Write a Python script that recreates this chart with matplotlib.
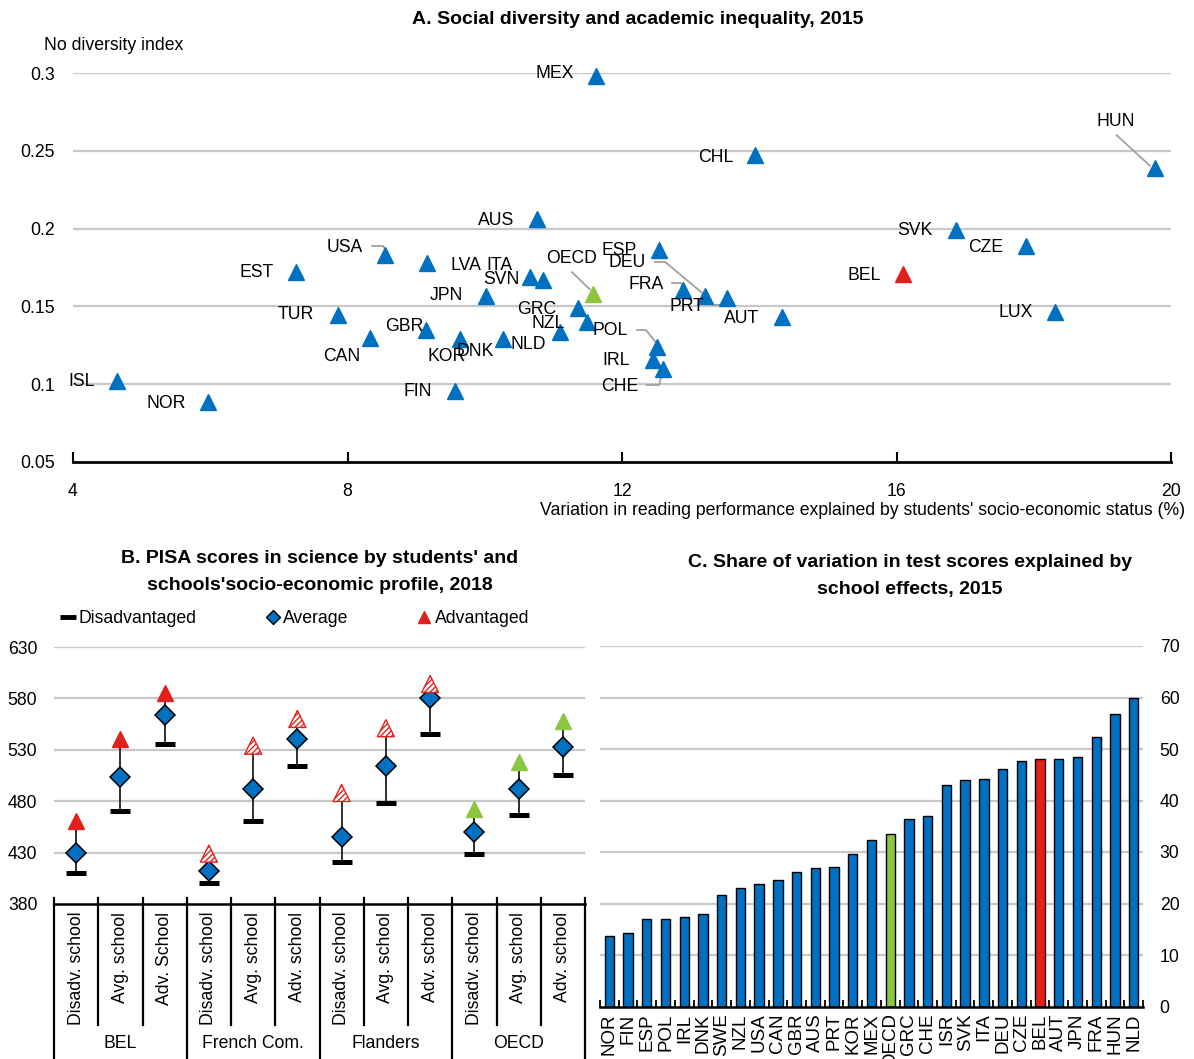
import matplotlib
matplotlib.use('Agg')
import matplotlib.pyplot as plt
from matplotlib import font_manager
from matplotlib.lines import Line2D
import matplotlib.transforms as mtrans

names = {f.name for f in font_manager.fontManager.ttflist}
NARROW = 'Liberation Sans Narrow' if 'Liberation Sans Narrow' in names else 'Liberation Sans'
REG = 'Liberation Sans'
plt.rcParams['font.family'] = [NARROW, 'DejaVu Sans']

BLUE = '#0070C0'
RED = '#E3201B'
GREEN = '#8CC63F'
GRID = '#C8C8C8'

# ---------------- Panel A data ----------------
a_countries = ['ISL', 'NOR', 'EST', 'TUR', 'CAN', 'USA', 'GBR', 'LVA', 'JPN', 'KOR',
               'NLD', 'FIN', 'ITA', 'SVN', 'AUS', 'GRC', 'NZL', 'SWE', 'OECD', 'MEX',
               'ESP', 'FRA', 'DEU', 'PRT', 'AUT', 'POL', 'IRL', 'CHE', 'CHL', 'HUN',
               'SVK', 'CZE', 'BEL', 'LUX']
a_x = [4.64, 5.97, 7.25, 7.86, 8.33, 8.55, 9.15, 9.16, 10.02, 9.64,
       10.27, 9.57, 10.66, 10.85, 10.76, 11.36, 11.10, 11.49, 11.58, 11.62,
       12.54, 12.89, 13.21, 13.53, 14.33, 12.51, 12.45, 12.60, 13.94, 19.76,
       16.86, 17.89, 16.10, 18.31]
a_y = [0.102, 0.0886, 0.172, 0.1445, 0.130, 0.183, 0.135, 0.1776, 0.157, 0.129,
       0.129, 0.0956, 0.169, 0.167, 0.206, 0.149, 0.1335, 0.140, 0.158, 0.298,
       0.186, 0.1605, 0.157, 0.1554, 0.143, 0.124, 0.1156, 0.110, 0.247, 0.239,
       0.199, 0.189, 0.171, 0.1464]

# label placement (data coords) and leader lines
a_label_pos = {
    'MEX': (11.02, 0.300), 'CHL': (13.36, 0.246), 'HUN': (19.20, 0.269),
    'AUS': (10.16, 0.2055), 'SVK': (16.27, 0.1985), 'CZE': (17.30, 0.188),
    'USA': (7.96, 0.188), 'ESP': (11.96, 0.186), 'DEU': (12.07, 0.1785),
    'EST': (6.67, 0.1715), 'BEL': (15.53, 0.170), 'OECD': (11.26, 0.181),
    'LVA': (9.73, 0.1766), 'ITA': (10.22, 0.1766), 'SVN': (10.24, 0.167),
    'FRA': (12.35, 0.1638), 'JPN': (9.44, 0.1567), 'GRC': (10.76, 0.1477),
    'PRT': (12.95, 0.150), 'TUR': (7.25, 0.1445), 'AUT': (13.75, 0.1425),
    'LUX': (17.73, 0.1458), 'NZL': (10.92, 0.1393), 'GBR': (8.82, 0.1374),
    'POL': (11.83, 0.1342), 'CAN': (7.92, 0.118), 'DNK': (9.86, 0.1207),
    'KOR': (9.45, 0.1175), 'NLD': (10.63, 0.1252), 'IRL': (11.91, 0.115),
    'ISL': (4.12, 0.102), 'CHE': (11.97, 0.0988), 'FIN': (9.03, 0.0956),
    'NOR': (5.36, 0.0879),
}
a_leaders = {
    'HUN': [(19.21, 0.260), (19.69, 0.2405)],
    'USA': [(8.36, 0.1888), (8.52, 0.1888), (8.56, 0.1855)],
    'DEU': [(12.48, 0.1785), (12.63, 0.1785), (13.16, 0.1590)],
    'OECD': [(11.27, 0.172), (11.53, 0.1610)],
    'FRA': [(12.73, 0.1650), (12.87, 0.1650), (12.90, 0.1625)],
    'PRT': [(13.31, 0.151), (13.46, 0.151), (13.52, 0.1560)],
    'POL': [(12.22, 0.1348), (12.35, 0.1348), (12.50, 0.1265)],
    'CHE': [(12.36, 0.0995), (12.54, 0.0995), (12.59, 0.1080)],
}
a_xticks = [4, 8, 12, 16, 20]
a_yticks = [0.05, 0.1, 0.15, 0.2, 0.25, 0.3]
a_ytick_labels = ['0.05', '0.1', '0.15', '0.2', '0.25', '0.3']

# ---------------- Panel B data ----------------
b_groups = ['BEL', 'French Com.', 'Flanders', 'OECD']
b_cats = ['Disadv. school', 'Avg. school', 'Adv. School',
          'Disadv. school', 'Avg. school', 'Adv. school',
          'Disadv. school', 'Avg. school', 'Adv. school',
          'Disadv. school', 'Avg. school', 'Adv. school']
b_disadv = [410, 470.5, 535.5, 400.5, 461, 514, 421, 478, 545, 429, 466.5, 505.5]
b_avg = [430, 503.5, 564, 412, 492, 540.5, 445, 514, 580, 450, 492, 533]
b_adv = [461, 540.5, 585, 429, 534, 560, 488, 551, 594, 472.5, 518, 558]
b_adv_style = ['solid_red'] * 3 + ['hatched'] * 6 + ['solid_green'] * 3
b_yticks = [380, 430, 480, 530, 580, 630]

# ---------------- Panel C data ----------------
c_countries = ['NOR', 'FIN', 'ESP', 'POL', 'IRL', 'DNK', 'SWE', 'NZL', 'USA', 'CAN',
               'GBR', 'AUS', 'PRT', 'KOR', 'MEX', 'OECD', 'GRC', 'CHE', 'ISR', 'SVK',
               'ITA', 'DEU', 'CZE', 'BEL', 'AUT', 'JPN', 'FRA', 'HUN', 'NLD']
c_values = [13.6, 14.2, 16.9, 17.05, 17.3, 17.9, 21.6, 22.95, 23.8, 24.5,
            26.2, 26.8, 27.0, 29.55, 32.4, 33.5, 36.5, 36.9, 43.1, 44.0,
            44.1, 46.1, 47.7, 48.1, 48.1, 48.4, 52.3, 56.8, 59.9]
c_yticks = [0, 10, 20, 30, 40, 50, 60, 70]

FS = 12.7
TFS = 14

fig = plt.figure(figsize=(11.94, 10.59), dpi=100)

# ======================= Panel A =======================
axA = fig.add_axes([73 / 1194, 1 - 462 / 1059, (1171 - 73) / 1194, (462 - 73) / 1059])
axA.set_xlim(4, 20)
axA.set_ylim(0.05, 0.3)
for yv in a_yticks[1:]:
    axA.axhline(yv, color=GRID, lw=1.6, zorder=0)
for c, x, y in zip(a_countries, a_x, a_y):
    col = RED if c == 'BEL' else (GREEN if c == 'OECD' else BLUE)
    axA.plot([x], [y], marker='^', ms=11, color=col, mec=col, ls='none',
             zorder=3, clip_on=False)
for c, pts in a_leaders.items():
    axA.plot([p[0] for p in pts], [p[1] for p in pts], color='#A0A0A0', lw=1.3,
             zorder=2, clip_on=False)
for c, (tx, ty) in a_label_pos.items():
    axA.text(tx, ty, c, ha='center', va='center', fontsize=FS, zorder=4)
for s in ['top', 'left', 'right']:
    axA.spines[s].set_visible(False)
axA.spines['bottom'].set_linewidth(2)
axA.set_xticks(a_xticks)
axA.set_xticklabels([str(v) for v in a_xticks], fontsize=FS)
axA.set_yticks(a_yticks)
axA.set_yticklabels(a_ytick_labels, fontsize=FS)
axA.tick_params(axis='x', direction='in', length=7, width=1.5, pad=15)
axA.tick_params(axis='y', length=0, pad=13)
fig.text(1185 / 1194, 1 - 510 / 1059,
         "Variation in reading performance explained by students' socio-economic status (%)",
         ha='right', va='center', fontsize=FS)
fig.text(44 / 1194, 1 - 46 / 1059, 'No diversity index', ha='left', va='center', fontsize=FS)
fig.text(638 / 1194, 1 - 20 / 1059, 'A. Social diversity and academic inequality, 2015',
         ha='center', va='center', fontsize=TFS, fontweight='bold')

# ======================= Panel B =======================
axB = fig.add_axes([54 / 1194, 1 - 904 / 1059, (585 - 54) / 1194, (904 - 647) / 1059])
axB.set_xlim(-0.5, 11.5)
axB.set_ylim(380, 630)
for yv in b_yticks[1:]:
    axB.axhline(yv, color=GRID, lw=1.6, zorder=0)
xs = list(range(len(b_cats)))
for i in xs:
    axB.plot([i, i], [b_disadv[i], b_adv[i]], color='#202020', lw=1.3, zorder=1)
axB.plot(xs, b_disadv, marker='_', ms=14, mew=3.6, color='black', ls='none', zorder=2)
axB.plot(xs, b_avg, marker='D', ms=10, mfc=BLUE, mec='black', mew=1.1, ls='none', zorder=3)
for i in xs:
    st = b_adv_style[i]
    if st == 'hatched':
        axB.scatter([i], [b_adv[i]], marker='^', s=150, facecolor='white',
                    edgecolor=RED, hatch='//////', linewidths=1.0, zorder=4)
    else:
        col = RED if st == 'solid_red' else GREEN
        axB.plot([i], [b_adv[i]], marker='^', ms=12, color=col, mec=col, ls='none', zorder=4)
for s in ['top', 'left', 'right']:
    axB.spines[s].set_visible(False)
axB.spines['bottom'].set_linewidth(1.8)
axB.set_yticks(b_yticks)
axB.set_yticklabels([str(v) for v in b_yticks], fontsize=FS)
axB.tick_params(axis='y', length=0, pad=12)
axB.set_xticks([])
trB = mtrans.blended_transform_factory(axB.transData, axB.transAxes)
for k in range(len(b_cats) + 1):
    xb = k - 0.5
    bottom = -0.60 if k % 3 == 0 else -0.472
    axB.plot([xb, xb], [0.025, bottom], color='black', lw=1.6, transform=trB, clip_on=False)
for i, lab in enumerate(b_cats):
    axB.text(i, -0.03, lab, rotation=90, ha='center', va='top', fontsize=FS,
             transform=trB, clip_on=False)
for g, name in enumerate(b_groups):
    axB.text(3 * g + 1, -0.542, name, ha='center', va='center', fontsize=FS,
             transform=trB, clip_on=False)
handles = [Line2D([], [], marker='_', ms=11, mew=3.5, color='black', ls='none'),
           Line2D([], [], marker='D', ms=7, mfc=BLUE, mec='black', mew=1, ls='none'),
           Line2D([], [], marker='^', ms=9, color=RED, ls='none')]
axB.legend(handles, ['Disadvantaged', 'Average', 'Advantaged'], ncol=3, frameon=False,
           fontsize=FS, loc='center left', bbox_to_anchor=(0.0, 1.11),
           handlelength=0.8, handletextpad=0.2, columnspacing=3.9, borderaxespad=0)
fig.text(320 / 1194, 1 - 572 / 1059,
         "B. PISA scores in science by students' and\nschools'socio-economic profile, 2018",
         ha='center', va='center', fontsize=TFS, fontweight='bold', linespacing=1.73)

# ======================= Panel C =======================
axC = fig.add_axes([600 / 1194, 1 - 1006.5 / 1059, (1143 - 600) / 1194, (1006.5 - 646) / 1059])
axC.set_xlim(-0.5, len(c_countries) - 0.5)
axC.set_ylim(0, 70)
for yv in c_yticks[1:]:
    axC.axhline(yv, color=GRID, lw=1.6, zorder=0)
cols = [RED if c == 'BEL' else (GREEN if c == 'OECD' else BLUE) for c in c_countries]
axC.bar(range(len(c_countries)), c_values, width=0.5, color=cols, edgecolor='black',
        linewidth=1.0, zorder=2)
for s in ['top', 'left', 'right']:
    axC.spines[s].set_visible(False)
axC.spines['bottom'].set_linewidth(1.8)
axC.yaxis.tick_right()
axC.set_yticks(c_yticks)
axC.set_yticklabels([str(v) for v in c_yticks], fontsize=FS)
axC.tick_params(axis='y', length=0, pad=12)
axC.set_xticks(range(len(c_countries)))
axC.set_xticklabels(c_countries, rotation=90, fontsize=13.5, family=[REG, 'DejaVu Sans'])
axC.set_xticks([k - 0.5 for k in range(len(c_countries) + 1)], minor=True)
axC.tick_params(axis='x', which='major', length=0, pad=5)
axC.tick_params(axis='x', which='minor', direction='in', length=5, width=1.3)
fig.text(910 / 1194, 1 - 576 / 1059,
         "C. Share of variation in test scores explained by\nschool effects, 2015",
         ha='center', va='center', fontsize=TFS, fontweight='bold', linespacing=1.73)

fig.savefig('out.png', dpi=100)
